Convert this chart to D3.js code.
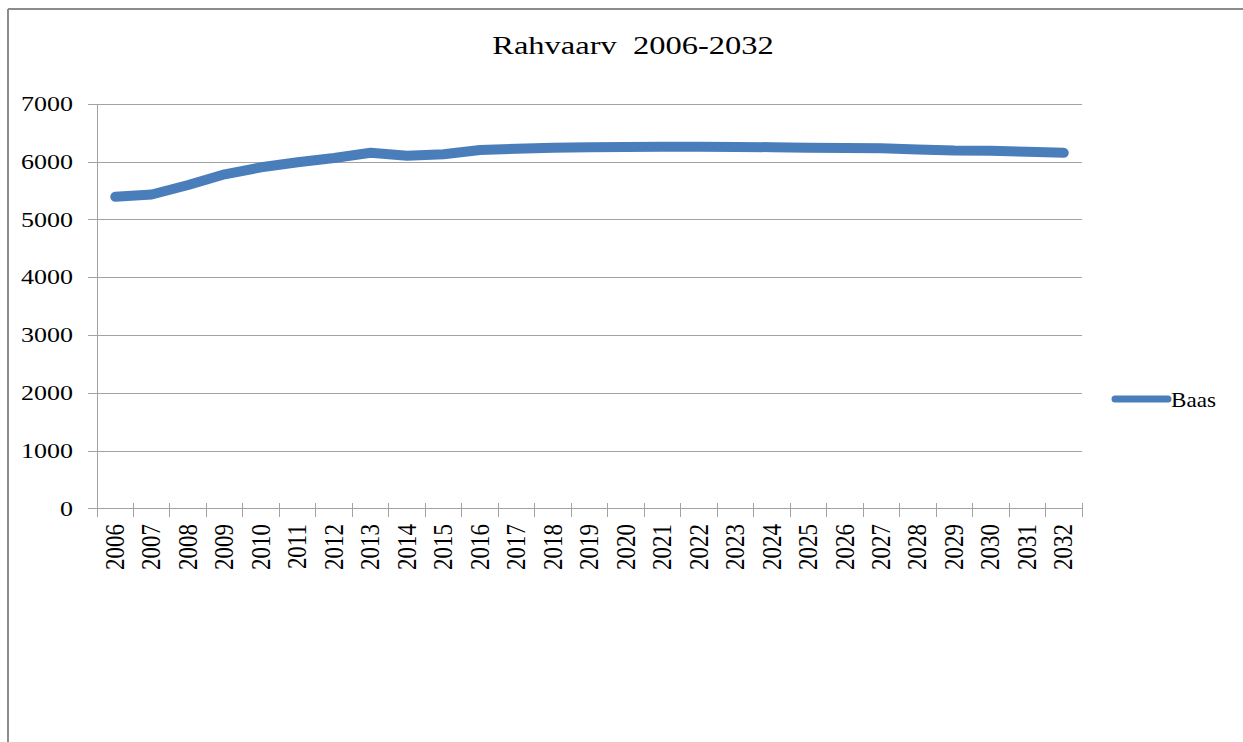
<!DOCTYPE html>
<html>
<head>
<meta charset="utf-8">
<script src="https://cdn.jsdelivr.net/npm/d3@7"></script>
<style>
  html, body { margin: 0; padding: 0; background: #fff; }
  svg { display: block; }
  text { font-family: "Liberation Serif", "DejaVu Serif", serif; fill: #000; }
</style>
</head>
<body>
<svg id="chart" width="1243" height="742"></svg>
<script>
const years = ["2006","2007","2008","2009","2010","2011","2012","2013","2014","2015","2016","2017","2018","2019","2020","2021","2022","2023","2024","2025","2026","2027","2028","2029","2030","2031","2032"];
const baas = [5400,5440,5604,5789,5910,5997,6071,6163,6111,6135,6209,6232,6249,6256,6262,6265,6265,6263,6258,6248,6245,6238,6220,6200,6195,6180,6160];
const yTicks = [0,1000,2000,3000,4000,5000,6000,7000];
const seriesName = "Baas";
const titleText = "Rahvaarv  2006-2032";

const svg = d3.select("#chart");
const W = 1243, H = 742;
const pLeft = 97, pRight = 1082, pTop = 104.3, pBottom = 508.9;
const lineColor = "#4a7ebb";
const gridColor = "#a3a3a3";

// outer frame
svg.append("line").attr("x1", 8).attr("x2", W).attr("y1", 9).attr("y2", 9)
  .attr("stroke", "#8c8c8c").attr("stroke-width", 2);
svg.append("line").attr("x1", 8).attr("x2", 8).attr("y1", 9).attr("y2", H)
  .attr("stroke", "#8c8c8c").attr("stroke-width", 2);

// title
svg.append("text")
  .attr("transform", `translate(633,54) scale(1.25,1)`)
  .attr("text-anchor", "middle")
  .attr("font-size", 26)
  .style("white-space", "pre")
  .text(titleText);

const x = d3.scaleBand().domain(years).range([pLeft, pRight]).padding(0);
const y = d3.scaleLinear().domain([0, 7000]).range([pBottom, pTop]);

// gridlines
svg.append("g").selectAll("line").data(yTicks.filter(d => d > 0)).join("line")
  .attr("x1", pLeft - 9).attr("x2", pRight)
  .attr("y1", d => y(d)).attr("y2", d => y(d))
  .attr("stroke", gridColor).attr("stroke-width", 1).attr("shape-rendering", "crispEdges");

// y axis line
svg.append("line").attr("x1", pLeft).attr("x2", pLeft).attr("y1", y(7000)).attr("y2", pBottom + 8)
  .attr("stroke", gridColor).attr("stroke-width", 1).attr("shape-rendering", "crispEdges");
// x axis line
svg.append("line").attr("x1", pLeft - 9).attr("x2", pRight).attr("y1", pBottom).attr("y2", pBottom)
  .attr("stroke", gridColor).attr("stroke-width", 1).attr("shape-rendering", "crispEdges");

// x ticks at category boundaries
const bounds = years.map(d => x(d)).concat([x(years[years.length - 1]) + x.bandwidth()]);
svg.append("g").selectAll("line").data(bounds).join("line")
  .attr("x1", d => d).attr("x2", d => d)
  .attr("y1", pBottom - 6).attr("y2", pBottom + 8)
  .attr("stroke", gridColor).attr("stroke-width", 1).attr("shape-rendering", "crispEdges");

// y labels
svg.append("g").selectAll("text").data(yTicks).join("text")
  .attr("transform", d => `translate(73,${y(d) + 6.6}) scale(1.3,1)`)
  .attr("text-anchor", "end")
  .attr("font-size", 20)
  .text(d => d);

// x labels
svg.append("g").selectAll("text").data(years).join("text")
  .attr("transform", d => `translate(${x(d) + x.bandwidth() / 2},524) scale(1.15,1) rotate(-90)`)
  .attr("text-anchor", "end")
  .attr("dy", 7.5)
  .attr("font-size", 23)
  .text(d => d);

// line
const line = d3.line()
  .x((d, i) => x(years[i]) + x.bandwidth() / 2)
  .y(d => y(d));
svg.append("path").datum(baas)
  .attr("d", line)
  .attr("fill", "none")
  .attr("stroke", lineColor)
  .attr("stroke-width", 10)
  .attr("stroke-linecap", "round")
  .attr("stroke-linejoin", "round");

// legend
svg.append("line").attr("x1", 1115).attr("x2", 1168).attr("y1", 399).attr("y2", 399)
  .attr("stroke", lineColor).attr("stroke-width", 7).attr("stroke-linecap", "round");
svg.append("text")
  .attr("transform", `translate(1171,406.5) scale(1.1,1)`)
  .attr("font-size", 21)
  .text(seriesName);
</script>
</body>
</html>
